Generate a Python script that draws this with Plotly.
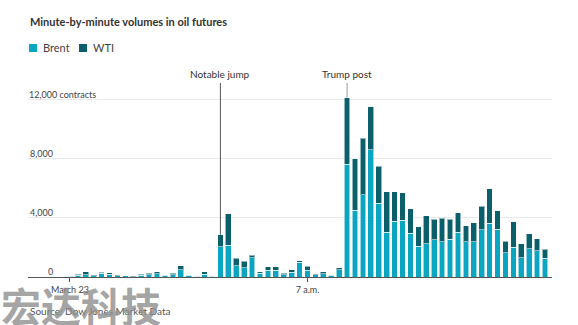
import plotly.graph_objects as go

# ---- data ----
minutes = list(range(61))  # minute index, 0 = start of window on March 23
brent = [60, 130, 160, 80, 250, 180, 100, 70, 30, 135, 160, 230, 110, 140, 475, 110, 65, 170, 60,
         2060, 2160, 770, 620, 1310, 270, 460, 450, 160, 320, 1000, 450, 140, 225, 120, 500,
         7640, 4520, 5580, 8610, 4990, 3030, 3770, 3840, 2960, 2100, 2260, 2510, 2380, 2550, 3050,
         2400, 2400, 3190, 3660, 3230, 1630, 2010, 1310, 1920, 1790, 1270]
wti = [30, 50, 180, 30, 70, 110, 35, 20, 10, 45, 110, 130, 50, 110, 295, 50, 25, 170, 30,
       800, 2130, 500, 455, 160, 70, 220, 230, 110, 180, 85, 270, 85, 135, 40, 140,
       4520, 3480, 3820, 2940, 2510, 2760, 2020, 1880, 1670, 1310, 1880, 1420, 1600, 1380, 1290,
       1080, 1280, 1620, 2310, 1270, 790, 1740, 950, 1000, 810, 610]
x_tick_vals = [0, 30]
x_tick_text = ["March 23", "7 a.m."]
y_tick_vals = [0, 4000, 8000]
y_tick_text = ["0", "4,000", "8,000"]
y_top_val = 12000
y_top_text = "12,000 contracts"
events = [(19, "Notable jump", "#555555"), (35, "Trump post", "#9a9a9a")]

# ---- geometry (pixels) ----
W, H = 578, 325
L, R, T, B = 28, 552, 83, 277
YMAX = 13150

def px(x):
    return (x - L) / (R - L)

def py(y):
    return (B - y) / (B - T)

FONT = "Lato"
BRENT_C = "#0aa6c1"
WTI_C = "#0a5f6a"
EDGE = "rgba(255,255,255,0.55)"

fig = go.Figure()
fig.add_bar(x=minutes, y=brent, name="Brent", width=0.72,
            marker=dict(color=BRENT_C, line=dict(color=EDGE, width=1)))
fig.add_bar(x=minutes, y=wti, name="WTI", width=0.72,
            marker=dict(color=WTI_C, line=dict(color=EDGE, width=1)))

fig.update_layout(
    width=W, height=H, barmode="stack", showlegend=False,
    margin=dict(l=L, r=W - R, t=T, b=H - B, pad=0),
    plot_bgcolor="white", paper_bgcolor="white",
    font=dict(family=FONT, size=10, color="#555555"),
    xaxis=dict(range=[-5.3, 60.88], tickvals=x_tick_vals, ticktext=x_tick_text,
               ticks="outside", ticklen=4, tickcolor="#555555", showgrid=False,
               showline=True, linecolor="#555555", linewidth=1, zeroline=False,
               tickfont=dict(family=FONT, size=9, color="#444444"), fixedrange=True),
    yaxis=dict(range=[0, YMAX], tickvals=y_tick_vals + [y_top_val], showticklabels=False,
               showgrid=True, gridcolor="#e9e9e9", gridwidth=1, zeroline=False,
               showline=False, fixedrange=True),
)

annotations = []
shapes = []
# y tick labels above gridlines
for v, t in zip(y_tick_vals, y_tick_text):
    annotations.append(dict(x=px(55), xref="paper", y=v, yref="y", text=t,
                            xanchor="right", yanchor="middle", yshift=5.5, showarrow=False,
                            font=dict(family=FONT, size=9, color="#444444")))
annotations.append(dict(x=px(27), xref="paper", y=y_top_val, yref="y", text=y_top_text,
                        xanchor="left", yanchor="middle", yshift=5.5, showarrow=False,
                        font=dict(family=FONT, size=9, color="#444444")))

# event markers
for idx, label, col in events:
    total = brent[idx] + wti[idx]
    shapes.append(dict(type="line", xref="x", yref="y", x0=idx, x1=idx, y0=total, y1=YMAX,
                       line=dict(color=col, width=1)))
    annotations.append(dict(x=idx, xref="x", y=py(74), yref="paper", text=label,
                            xanchor="center", yanchor="middle", showarrow=False,
                            font=dict(family=FONT, size=10, color="#333333")))

# title
annotations.append(dict(x=px(28), xref="paper", y=py(21), yref="paper",
                        text="<b>Minute-by-minute volumes in oil futures</b>",
                        xanchor="left", yanchor="middle", showarrow=False,
                        font=dict(family=FONT, size=11, color="#333333")))
# legend
for x0, col, name in [(29, BRENT_C, "Brent"), (79, WTI_C, "WTI")]:
    shapes.append(dict(type="rect", xref="paper", yref="paper", x0=px(x0), x1=px(x0 + 8),
                       y0=py(52), y1=py(44), fillcolor=col, line=dict(width=0)))
    annotations.append(dict(x=px(x0 + 12), xref="paper", y=py(48), yref="paper", text=name,
                            xanchor="left", yanchor="middle", showarrow=False,
                            font=dict(family=FONT, size=11, color="#444444")))
# source
annotations.append(dict(x=px(28), xref="paper", y=py(311), yref="paper",
                        text="Source: Dow Jones Market Data",
                        xanchor="left", yanchor="middle", showarrow=False,
                        font=dict(family=FONT, size=10, color="#555555")))
# watermark
annotations.append(dict(x=px(81), xref="paper", y=py(305), yref="paper",
                        text="<b>宏达科技</b>",
                        xanchor="center", yanchor="middle", showarrow=False,
                        font=dict(family="Noto Sans CJK SC", size=40, color="rgba(140,140,140,0.8)")))

fig.update_layout(annotations=annotations, shapes=shapes)
fig.write_html("out.html")
